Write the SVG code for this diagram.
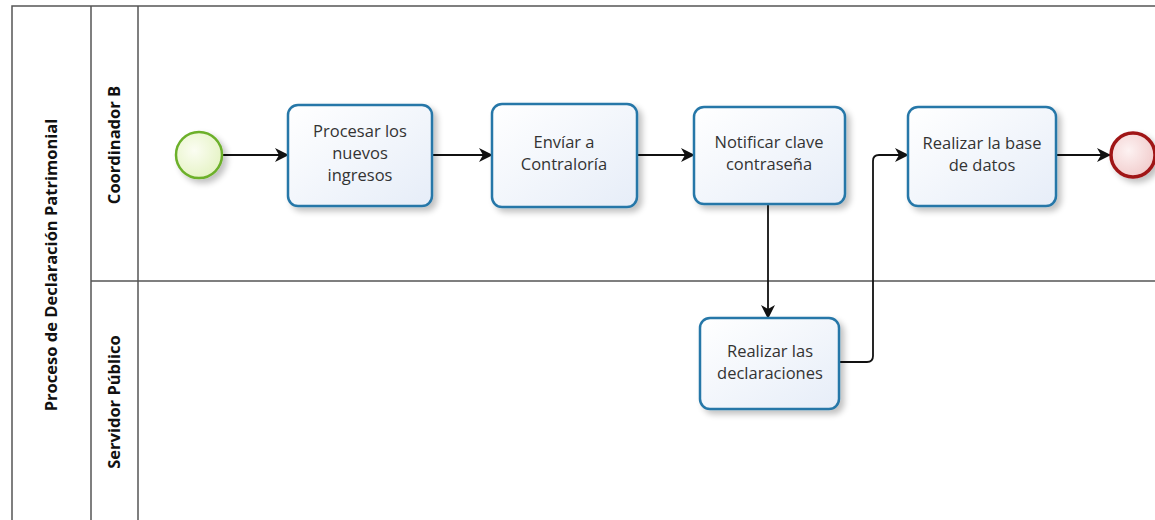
<svg xmlns="http://www.w3.org/2000/svg" width="1155" height="520" viewBox="0 0 1155 520">
<style>
.lane{fill:none;stroke:#555;stroke-width:1.5}
.task rect{fill:url(#tg);stroke:#2677a8;stroke-width:2.5;filter:url(#sh)}
.task text{font-family:"Open Sans","Noto Sans",sans-serif;font-size:16.5px;fill:#333;text-anchor:middle}
.lbl{font-family:"Open Sans","Noto Sans",sans-serif;font-size:16.5px;font-weight:bold;fill:#111;text-anchor:middle}
.flow{fill:none;stroke:#111;stroke-width:1.8;marker-end:url(#ah)}
</style>
<defs>
<linearGradient id="tg" x1="0" y1="0" x2="1" y2="1"><stop offset="0" stop-color="#ffffff"/><stop offset="1" stop-color="#e6edf8"/></linearGradient>
<radialGradient id="sg" cx="0.4" cy="0.4" r="0.7"><stop offset="0" stop-color="#fbfdf2"/><stop offset="1" stop-color="#e3f2c0"/></radialGradient>
<radialGradient id="eg" cx="0.4" cy="0.4" r="0.7"><stop offset="0" stop-color="#fdf2f2"/><stop offset="1" stop-color="#f0c8c8"/></radialGradient>
<filter id="sh" x="-20%" y="-20%" width="150%" height="150%"><feGaussianBlur in="SourceAlpha" stdDeviation="3"/><feOffset dx="4" dy="4"/><feComponentTransfer><feFuncA type="linear" slope="0.25"/></feComponentTransfer><feMerge><feMergeNode/><feMergeNode in="SourceGraphic"/></feMerge></filter>
<marker id="ah" markerWidth="14" markerHeight="14" refX="13" refY="7" orient="auto" markerUnits="userSpaceOnUse"><path d="M0,0 L14,7 L0,14 L4,7 Z" fill="#111"/></marker>
</defs>
<rect width="1155" height="520" fill="#fff"/>
<g id="pool">
<rect class="lane" x="12" y="6" width="1160" height="530"/>
<line class="lane" x1="91" y1="6" x2="91" y2="520"/>
<line class="lane" x1="138" y1="6" x2="138" y2="520"/>
<line class="lane" x1="91" y1="281" x2="1155" y2="281"/>
<text class="lbl" transform="translate(57,265) rotate(-90)">Proceso de Declaración Patrimonial</text>
<text class="lbl" transform="translate(120,145) rotate(-90)">Coordinador B</text>
<text class="lbl" transform="translate(120,402) rotate(-90)">Servidor Público</text>
</g>
<g id="connectors">
<line class="flow" x1="222" y1="155" x2="288" y2="155"/>
<line class="flow" x1="432" y1="155" x2="492" y2="155"/>
<line class="flow" x1="637" y1="155" x2="694" y2="155"/>
<line class="flow" x1="768" y1="204" x2="768" y2="318"/>
<path class="flow" d="M839,362 H867 Q873,362 873,356 V161 Q873,155 879,155 H908"/>
<line class="flow" x1="1056" y1="155" x2="1110" y2="155"/>
</g>
<g id="start"><circle cx="199" cy="155" r="23" fill="url(#sg)" stroke="#6cb02a" stroke-width="2.5" filter="url(#sh)"/></g>
<g id="t1" class="task"><rect x="288" y="105" width="144" height="101" rx="10"/><text x="360" y="137">Procesar los</text><text x="360" y="159">nuevos</text><text x="360" y="181">ingresos</text></g>
<g id="t2" class="task"><rect x="492" y="104" width="145" height="103" rx="10"/><text x="564" y="148">Envíar a</text><text x="564" y="170">Contraloría</text></g>
<g id="t3" class="task"><rect x="694" y="107" width="151" height="97" rx="10"/><text x="769" y="148">Notificar clave</text><text x="769" y="170">contraseña</text></g>
<g id="t4" class="task"><rect x="908" y="107" width="148" height="99" rx="10"/><text x="982" y="149">Realizar la base</text><text x="982" y="171">de datos</text></g>
<g id="t5" class="task"><rect x="700" y="318" width="139" height="91" rx="10"/><text x="770" y="357">Realizar las</text><text x="770" y="379">declaraciones</text></g>
<g id="end"><circle cx="1133" cy="155" r="22" fill="url(#eg)" stroke="#a01519" stroke-width="3.5" filter="url(#sh)"/></g>
</svg>
